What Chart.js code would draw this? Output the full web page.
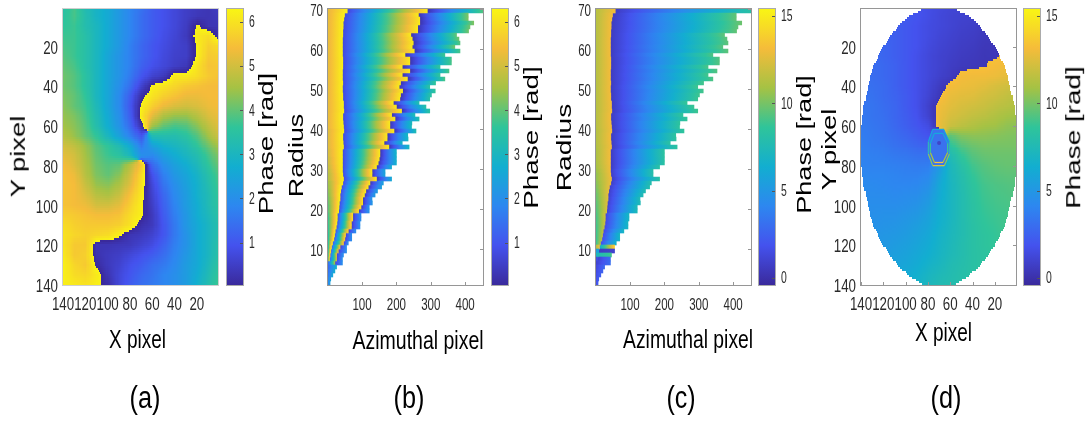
<!DOCTYPE html>
<html>
<head>
<meta charset="utf-8">
<script src="https://cdn.jsdelivr.net/npm/chart.js@4"></script>
<style>
  html, body { margin: 0; padding: 0; background: #fff; overflow: hidden; }
  #page { position: relative; width: 1087px; height: 421px; filter: blur(0.55px); }
  canvas { position: absolute; }
  .lab { position: absolute; white-space: nowrap; color: #000; font-family: "Liberation Sans", sans-serif; line-height: 1; }
</style>
</head>
<body>
<div id="page"></div>
<script>
// tick values
const xTicksPixel = [140, 120, 100, 80, 60, 40, 20];
const yTicksPixel = [20, 40, 60, 80, 100, 120, 140];
const xTicksAzimuth = [100, 200, 300, 400];
const yTicksRadius = [10, 20, 30, 40, 50, 60, 70];
const cbTicksWrapped = [1, 2, 3, 4, 5, 6];
const cbTicksUnwrapped = [0, 5, 10, 15];

// colour limits of the two colour bars
const rangeWrapped = [0.04, 6.29];
const rangeUnwrapped = [-0.4, 15.4];

// colour bar
const parula = ['#3a2a9c', '#4452ee', '#2d87f0', '#12aed0', '#2fc49a', '#a5c244', '#f5bc3a', '#f9f514'];

// nodes of the X/Y maps
const gridX = [140, 130, 120, 110, 100, 90, 80, 70, 60, 50, 40, 30, 20, 10, 0];
const gridY = [0, 5, 10, 15, 20, 25, 30, 35, 40, 45, 50, 55, 60, 65, 70, 75, 80, 85, 90, 95, 100, 105, 110, 115, 120, 125, 130, 135, 140];

// (a) wrapped phase, one line per gridY
const phaseA = [
  [3.4,3.8,3.2,2.9,2.6,2.2,1.8,1.5,1.1,.9,.7,.5,.4,.3,.5],
  [3.5,3.8,3.3,2.9,2.6,2.2,1.8,1.4,1.1,.9,.7,.5,.35,.3,.4],
  [3.6,3.7,3.3,3.0,2.6,2.2,1.8,1.4,1.1,.9,.7,.45,6.2,.3,.3],
  [3.7,3.7,3.4,3.0,2.6,2.2,1.8,1.4,1.1,.85,.65,.4,6.1,5.9,.3],
  [3.8,3.7,3.4,3.0,2.6,2.2,1.7,1.3,1.0,.8,.6,.5,6.2,5.7,5.9],
  [3.9,3.7,3.4,3.0,2.5,2.1,1.7,1.3,1.0,.75,.55,.5,6.2,5.6,5.7],
  [4.0,3.8,3.4,3.0,2.5,2.1,1.7,1.2,.9,.7,.5,.35,6.0,5.5,5.6],
  [4.1,3.9,3.5,3.0,2.5,2.1,1.6,1.0,.6,.4,6.1,6.1,5.9,5.6,5.5],
  [4.1,3.9,3.5,3.0,2.5,2.0,1.4,.6,6.2,6.0,5.8,5.6,5.5,5.4,5.4],
  [4.2,4.0,3.6,3.0,2.5,1.9,1.1,.15,6.0,5.7,5.5,5.3,5.3,5.4,5.4],
  [4.3,4.0,3.7,3.1,2.5,1.9,1.0,6.2,5.7,5.3,5.1,5.0,5.1,5.3,5.4],
  [4.4,4.2,3.8,3.2,2.6,2.0,1.1,6.1,5.2,4.6,4.4,4.4,4.7,5.1,5.3],
  [4.5,4.3,3.9,3.3,2.7,2.1,1.3,.2,4.5,4.0,3.8,3.9,4.3,4.8,5.2],
  [4.7,4.4,4.0,3.6,3.0,2.4,1.7,1.0,3.2,3.3,3.3,3.5,3.9,4.5,5.0],
  [5.0,4.8,4.4,3.9,3.6,3.2,2.6,1.6,2.4,2.8,3.0,3.2,3.6,4.1,4.6],
  [5.2,5.0,4.5,4.0,3.7,3.5,3.0,2.0,1.9,2.4,2.7,3.0,3.3,3.8,4.3],
  [5.4,5.1,4.6,4.1,3.9,4.0,4.7,5.6,1.3,2.0,2.4,2.7,3.1,3.6,4.1],
  [5.5,5.3,4.7,4.2,4.0,4.3,5.0,5.9,.9,1.7,2.2,2.5,2.9,3.4,3.9],
  [5.5,5.4,4.9,4.4,4.3,4.6,5.2,6.0,.7,1.5,2.0,2.4,2.8,3.3,3.8],
  [5.5,5.4,5.1,4.7,4.6,4.9,5.5,6.1,.6,1.3,1.9,2.3,2.8,3.2,3.7],
  [5.5,5.4,5.3,5.0,5.0,5.2,5.7,6.2,.5,1.2,1.8,2.3,2.7,3.2,3.6],
  [5.7,5.6,5.5,5.4,5.4,5.5,5.9,6.2,.4,1.1,1.7,2.2,2.7,3.1,3.5],
  [5.9,5.7,5.6,5.6,5.6,5.7,6.0,.2,.4,1.0,1.6,2.2,2.6,3.0,3.4],
  [6.0,5.8,5.7,5.8,5.9,6.2,.3,.4,.6,1.0,1.6,2.1,2.6,3.0,3.4],
  [6.0,5.6,5.6,.3,.3,.35,.4,.6,.8,1.2,1.7,2.1,2.6,3.0,3.5],
  [6.1,5.6,5.7,.25,.4,.5,.7,.9,1.1,1.4,1.8,2.2,2.6,3.0,3.5],
  [6.2,5.8,5.6,.1,.4,.6,.9,1.1,1.4,1.6,1.9,2.3,2.6,3.1,3.6],
  [6.2,5.9,5.8,6.1,.3,.7,1.0,1.3,1.5,1.8,2.0,2.3,2.7,3.2,3.7],
  [6.2,6.1,6.0,6.2,.15,.7,1.1,1.4,1.6,1.8,2.0,2.3,2.8,3.3,3.8]
];

// (d) unwrapped phase, one line per gridY
const phaseD = [
  [2.6,2.6,2.5,2.4,2.2,1.9,1.6,1.4,1.2,1.1,1.0,.9,.8,.7,.7],
  [2.7,2.7,2.5,2.4,2.2,1.9,1.6,1.3,1.1,1.0,.9,.8,.7,.6,.6],
  [2.8,2.7,2.5,2.4,2.1,1.8,1.5,1.3,1.1,.9,.8,.6,.5,.5,.5],
  [2.9,2.8,2.6,2.4,2.1,1.8,1.5,1.2,1.0,.8,.7,.5,.4,.4,.4],
  [3.0,2.9,2.7,2.4,2.1,1.8,1.4,1.1,.9,.7,.6,.4,.4,13.1,13.1],
  [3.0,2.9,2.7,2.4,2.1,1.7,1.3,1.0,.8,.6,.5,.35,.4,13.1,13.1],
  [3.1,3.0,2.8,2.5,2.1,1.7,1.3,1.0,.7,.5,.4,.35,13.1,13.0,13.0],
  [3.1,3.0,2.8,2.5,2.1,1.7,1.3,.9,.6,13.1,13.0,13.0,12.9,12.7,12.5],
  [3.2,3.1,2.9,2.5,2.1,1.7,1.2,.6,13.1,12.9,12.8,12.6,12.3,12.1,11.9],
  [3.3,3.2,2.9,2.6,2.2,1.7,1.1,.4,12.8,12.6,12.5,12.2,12.0,11.7,11.5],
  [3.4,3.3,3.0,2.7,2.2,1.7,.9,13.0,12.6,12.3,12.1,11.9,11.6,11.4,11.2],
  [3.5,3.3,3.1,2.7,2.3,1.8,1.0,12.9,12.3,12.0,11.7,11.5,11.2,10.9,10.8],
  [3.6,3.4,3.2,2.8,2.4,2.0,1.5,12.8,11.9,11.5,11.2,10.9,10.8,10.5,10.4],
  [3.7,3.5,3.3,3.0,2.7,2.3,1.9,2.0,9.5,10.2,10.4,10.4,10.3,10.2,10.1],
  [3.8,3.6,3.5,3.2,3.0,2.7,2.5,2.5,8.5,9.4,9.8,10.0,10.0,10.0,10.0],
  [3.9,3.8,3.7,3.5,3.4,3.2,3.2,3.4,7.6,8.7,9.4,9.7,9.8,9.8,9.8],
  [4.0,3.9,3.9,3.8,3.7,3.6,3.7,5.0,7.2,8.2,9.0,9.4,9.6,9.7,9.7],
  [4.2,4.1,4.1,4.0,3.9,3.9,4.2,5.6,7.1,7.9,8.7,9.2,9.4,9.5,9.5],
  [4.3,4.3,4.2,4.1,4.1,4.2,4.6,6.0,7.0,7.8,8.5,9.0,9.2,9.3,9.4],
  [4.4,4.4,4.4,4.3,4.4,4.5,5.0,6.1,7.0,7.7,8.4,8.9,9.1,9.2,9.3],
  [4.5,4.5,4.5,4.5,4.6,4.8,5.3,6.3,7.0,7.7,8.3,8.8,9.0,9.1,9.2],
  [4.6,4.6,4.7,4.7,4.9,5.1,5.6,6.4,7.0,7.7,8.3,8.7,8.9,9.0,9.1],
  [4.7,4.7,4.8,4.9,5.1,5.4,5.8,6.5,7.1,7.7,8.2,8.6,8.8,9.0,9.0],
  [4.8,4.9,5.0,5.1,5.3,5.6,6.0,6.7,7.2,7.7,8.2,8.5,8.7,8.9,9.0],
  [5.0,5.0,5.1,5.3,5.5,5.8,6.2,6.8,7.3,7.8,8.2,8.5,8.7,8.8,8.9],
  [5.2,5.2,5.3,5.5,5.7,6.0,6.4,6.9,7.4,7.8,8.2,8.4,8.6,8.7,8.8],
  [5.4,5.4,5.5,5.7,5.9,6.2,6.7,7.1,7.6,7.9,8.2,8.4,8.6,8.7,8.8],
  [5.6,5.6,5.7,5.9,6.1,6.5,7.0,7.4,7.7,8.0,8.2,8.4,8.6,8.7,8.8],
  [5.8,5.8,5.9,6.1,6.3,6.7,7.2,7.6,7.8,8.0,8.2,8.4,8.6,8.7,8.8]
];

// (d) edge of the elliptical mask per gridY, in X pixels
const maskHigh = [78,96,106,113,119,124,128,131,133,135,137,138,139,140,140,140,139,138,137,135,133,131,128,124,119,113,106,96,82];
const maskLow = [62,44,34,27,21,16,12,9,7,5,3,2,1,1,1,1,1,2,3,5,7,9,12,16,21,27,34,44,58];

// (d) the two rings round the vortex core
const ringOuterX = [75.7, 65.9, 60.8, 60.8, 65.3, 75.7, 79.6, 79.6, 75.7];
const ringOuterY = [61.6, 61.6, 67.8, 74, 79.9, 79.9, 74, 67.8, 61.6];
const ringInnerX = [74.2, 66.5, 62.3, 62.3, 66.5, 74.2, 77.8, 77.8, 74.2];
const ringInnerY = [63.6, 63.6, 68.6, 73.3, 78.3, 78.3, 73.3, 68.6, 63.6];
const coreX = [70];
const coreY = [68.5];

// radius of every row in (b) and (c), top row first
const radii = [69,68,67,66,65,64,63,62,61,60,59,58,57,56,55,54,53,52,51,50,49,48,47,46,45,44,43,42,41,40,39,38,37,36,35,34,33,32,31,30,29,28,27,26,25,24,23,22,21,20,19,18,17,16,15,14,13,12,11,10,9,8,7,6,5,4,3,2,1];
const rowEnd = [452,409,409,425,414,410,375,382,385,370, 385,341,360,360,327,353,327,341,314,297, 313,302,297,266,286,297,254,266,245,244, 257,233,234,217,237,200,200,200,200,186, 167,167,186,162,157,145,138,129,130,121, 121,97,97,94,94,82,70,70,60,55, 55,46,43,43,26,21,15,9,7];
const seamFirst = [57,49,47,45,45,44,44,43,43,43, 43,43,44,44,44,43,43,43,44,43, 43,44,44,46,46,47,44,44,45,46, 47,44,44,45,46,43,43,43,43,43, 43,44,46,44,40,38,36,36,34,33, 32,28,28,27,25,22,20,18,14,11, 9,7,5,0,0,0,0,0,0];
const seamSecond = [290,264,268,268,262,262,242,246,249,246, 252,225,239,239,217,239,217,232,212,208, 218,212,210,191,200,215,186,196,181,181, 193,173,173,164,178,152,152,150,147,142, 129,129,142,123,118,111,107,102,102,97, 90,73,73,69,69,60,52,50,46,36, 31,26,26,21,26,21,15,9,7];

// (b) phase along each row
const leftB = [5.2,5.2,5.2,5.2,5.2,5.2,5.2,5.2,5.2,5.2, 5.2,5.2,5.2,5.2,5.2,5.2,5.2,5.2,5.2,5.2, 5.2,5.2,5.2,5.2,5.2,5.2,5.2,5.2,5.2,5.2, 5.1,5.1,5.1,5.1,5.1,5,5,4.9,4.9,4.8, 4.7,4.6,4.6,4.4,4.3,4.2,4.1,4.0,3.9,3.8, 3.8,3.6,3.5,3.5,3.4,3.3,3.2,3.2,3.1,3.0, 3.0,2.9,2.8,2.0,2,2,2,2,2];
const midStartB = [.7,.7,.7,.7,.7,.7,.7,.7,.7,.7, .7,.7,.7,.7,.7,.7,.7,.7,.7,.7, .7,.7,.7,.7,.7,.7,.7,.7,.7,.7, .7,.7,.7,.7,.7,.7,.7,.7,.7,.7, .7,.7,.7,.7,.7,.7,.7,.7,.7,.7, .7,.7,.7,.7,.7,.7,.7,.7,.8,.8, .9,.9,.9,1,1.2,1.3,1.4,1.5,1.6];
const midEndB = [6.1,6.1,6.1,6.1,6.1,6.1,6.1,6.1,6.1,6.1, 6.1,6.1,6.1,6.1,6.1,6.1,6.1,6.1,6.1,6.1, 6.1,6.1,6.1,6.1,6.1,6.1,6.1,6.1,6.1,6.1, 6.1,6.1,6.1,6.1,6.1,6.1,6.1,6.1,6.1,6.1, 6.1,6.1,6.1,6.1,6.1,6.1,6.1,6,6,6, 6,6,6,5.9,5.9,5.8,5.8,5.7,5.6,5.5, 5.4,5.2,5.0,4.6,2.8,2.7,2.6,2.5,2.4];
const rightStartB = [.25,.25,.25,.25,.25,.25,.25,.25,.25,.25, .25,.25,.25,.25,.25,.25,.25,.25,.25,.25, .25,.25,.25,.25,.25,.25,.25,.25,.25,.25, .25,.25,.25,.25,.25,.25,.25,.25,.25,.25, .3,.3,.3,.3,.3,.3,.3,.3,.3,.3, .4,.4,.4,.4,.4,.5,.5,.5,.5,.5, .6,.6,.6,.6,.6,.6,.6,.6,.6];
const rightB = [3.9,4.2,4.2,4.2,4.1,4.1,4.0,4.1,3.9,4.1, 3.8,3.7,3.8,3.8,3.6,3.8,3.6,3.8,3.6,3.5, 3.6,3.5,3.4,3.3,3.4,3.5,3.2,3.3,3.1,3.1, 3.2,3.0,3.0,2.9,3.0,2.9,2.9,2.8,2.8,2.7, 2.5,2.5,2.6,2.4,2.4,2.3,2.3,2.2,2.2,2.1, 2.1,2.0,2.0,2.0,2.0,2.0,2.0,2.0,2.0,2.0, 2.0,2.0,2.0,2.0,2.8,2.7,2.6,2.5,2.4];

// (c) phase along each row
const leftC = [11.3,11.3,11.3,11.3,11.3,11.3,11.3,11.3,11.3,11.3, 11.3,11.3,11.3,11.3,11.3,11.3,11.3,11.3,11.3,11.3, 11.3,11.3,11.3,11.3,11.3,11.3,11.3,11.3,11.3,11.3, 11.2,11.2,11.2,11.2,11.1,11,11,11,10.9,10.8, 10.6,10.4,10.4,10.2,10,9.8,9.6,9.5,9.3,9.2, 9.1,8.9,8.8,8.8,8.7,8.6,8.6,8.5,8.5,11, 5,7,1.5,1.5,1.5,1.4,1.3,1.2,1.2];
const seamC = [13.1,13.1,13.1,13.1,13.1,13.1,13.1,13.1,13.1,13.1, 13.1,13.1,13.1,13.1,13.1,13.1,13.1,13.1,13.1,13.1, 13.1,13.1,13.1,13.1,13.1,13.1,13.1,13.1,13.1,13.1, 13.1,13.1,13.1,13.1,13.1,13.1,13.1,13.1,13.1,13, 13,13,13,12.9,12.8,12.7,12.6,12.5,12.4,12.3, 12.2,12.1,12,11.9,11.7,11.6,11.5,11.4,11.2,13, 6,7.5,1.5,1.5,1.5,1.4,1.3,1.2,1.2];
const midStartC = [.7,.6,.6,.6,.6,.6,.6,.6,.6,.6, .6,.6,.6,.6,.6,.6,.6,.6,.6,.6, .6,.6,.6,.6,.6,.6,.6,.6,.6,.6, .6,.6,.6,.6,.6,.6,.6,.6,.6,.6, .7,.7,.7,.7,.8,.8,.8,.9,.9,1, 1,1.2,1.2,1.2,1.3,1.3,1.4,1.5,1.5,6, .6,7.5,.9,.9,1.2,1.3,1.4,1.5,1.5];
const rightC = [8.2,9.6,9.6,9.8,9.6,9.6,9.5,9.5,9.5,9.4, 9.5,9.2,9.3,9.3,9.1,9.3,9.0,9.2,9,8.9, 9,8.9,8.8,8.7,8.8,8.9,8.6,8.7,8.5,8.5, 8.6,8.4,8.4,8.3,8.4,8.4,8.4,8.3,8.3,8.2, 8,8,8.2,7.9,7.8,7.7,7.6,7.5,7.5,7.4, 7.4,7.0,7.0,7.0,7.0,7.0,7.0,6.9,6.8,14, 1,9,3.0,3.0,2.8,2.6,2.5,2.4,2.3];

const hexToRgb = h => [1, 3, 5].map(i => parseInt(h.substr(i, 2), 16));
const parulaRgb = parula.map(hexToRgb);

function colorOf(v, range) {
  let t = (v - range[0]) / (range[1] - range[0]);
  t = Math.min(1, Math.max(0, t)) * (parulaRgb.length - 1);
  const i = Math.min(parulaRgb.length - 2, Math.floor(t));
  const f = t - i;
  const c = parulaRgb[i].map((a, k) => Math.round(a + (parulaRgb[i + 1][k] - a) * f));
  return 'rgb(' + c.join(',') + ')';
}

// gradient between two phases, laid out between two pixels
function ramp(ctx2d, p0x, p0y, p1x, p1y, v0, v1, range) {
  const g = ctx2d.createLinearGradient(p0x, p0y, p1x, p1y);
  for (let i = 0; i <= 14; i++) {
    g.addColorStop(i / 14, colorOf(v0 + (v1 - v0) * i / 14, range));
  }
  return g;
}

function addCanvas(left, width, height) {
  const c = document.createElement('canvas');
  c.width = width;
  c.height = height;
  c.style.left = left + 'px';
  c.style.top = '0px';
  c.style.width = width + 'px';
  c.style.height = height + 'px';
  document.getElementById('page').appendChild(c);
  return c;
}

// frame and short inward marks
const framePlugin = {
  id: 'frame',
  afterDraw(chart, args, opts) {
    const { ctx, chartArea: a, scales } = chart;
    ctx.save();
    ctx.strokeStyle = opts.color;
    ctx.lineWidth = 1;
    ctx.strokeRect(a.left - 0.5, a.top - 0.5, a.width + 1, a.height + 1);
    if (opts.marks) {
      ctx.strokeStyle = opts.markColor || opts.color;
      if (!opts.bar) {
        scales.x.ticks.forEach(t => {
          const px = Math.round(scales.x.getPixelForValue(t.value)) + 0.5;
          ctx.beginPath(); ctx.moveTo(px, a.bottom); ctx.lineTo(px, a.bottom - 3); ctx.stroke();
        });
      }
      scales.y.ticks.forEach(t => {
        const py = Math.round(scales.y.getPixelForValue(t.value)) + 0.5;
        ctx.beginPath(); ctx.moveTo(a.right, py); ctx.lineTo(a.right - 3, py); ctx.stroke();
      });
    }
    ctx.restore();
  }
};

// the figure's tick numbers are squeezed sideways, which the axis text cannot do
const tickTextPlugin = {
  id: 'tickText',
  afterDraw(chart, args, t) {
    const { ctx, chartArea: a, scales } = chart;
    ctx.save();
    ctx.fillStyle = '#2a2a2a';
    ctx.font = t.size + 'px "Liberation Sans", sans-serif';
    const put = (text, px, py, align) => {
      ctx.save();
      ctx.translate(px, py);
      ctx.scale(t.squeeze, 1);
      ctx.textAlign = align;
      ctx.textBaseline = 'middle';
      ctx.fillText(text, 0, 0);
      ctx.restore();
    };
    if (t.bar) {
      scales.y.ticks.forEach(k => put(String(k.value), a.right + 6, scales.y.getPixelForValue(k.value) + 1, 'left'));
    } else {
      scales.x.ticks.forEach(k => put(String(k.value), scales.x.getPixelForValue(k.value), 305, 'center'));
      scales.y.ticks.forEach(k => put(String(k.value), a.left - 5, scales.y.getPixelForValue(k.value) + 2, 'right'));
    }
    ctx.restore();
  }
};

// paints a map like shading interp: each X/Y pixel is looked up in the read nodes.
// the phase is blended on a circle so that the wrap stays a sharp edge
const fieldPlugin = {
  id: 'field',
  beforeDatasetsDraw(chart, args, f) {
    if (!f.grid) return;
    const { ctx, scales: { x: sx, y: sy } } = chart;
    const w = 2 * Math.PI / f.period;
    ctx.save();
    for (let Y = 0; Y <= 140; Y++) {
      const fy = Math.min(gridY.length - 1.001, Y / 5);
      const j = Math.floor(fy), ty = fy - j;
      const py0 = Math.floor(sy.getPixelForValue(Math.max(1, Y - 0.5)));
      const py1 = Math.ceil(sy.getPixelForValue(Math.max(1, Y + 0.5)));
      let lo = -1, hi = 999;
      if (f.low) {
        lo = f.low[j] + (f.low[j + 1] - f.low[j]) * ty;
        hi = f.high[j] + (f.high[j + 1] - f.high[j]) * ty;
      }
      for (let X = 1; X <= 140; X++) {
        if (X < lo || X > hi) continue;
        const fx = Math.min(gridX.length - 1.001, (140 - X) / 10);
        const i = Math.floor(fx), tx = fx - i;
        let s = 0, c = 0;
        [[i, j, (1 - tx) * (1 - ty)], [i + 1, j, tx * (1 - ty)], [i, j + 1, (1 - tx) * ty], [i + 1, j + 1, tx * ty]].forEach(n => {
          const a = (f.grid[n[1]][n[0]] - f.start) * w;
          s += n[2] * Math.sin(a);
          c += n[2] * Math.cos(a);
        });
        let a = Math.atan2(s, c);
        if (a < 0) a += 2 * Math.PI;
        ctx.fillStyle = colorOf(f.start + a / w, f.range);
        const px0 = Math.floor(sx.getPixelForValue(Math.min(140, X + 0.5)));
        const px1 = Math.ceil(sx.getPixelForValue(X - 0.5));
        ctx.fillRect(px0, py0, px1 - px0, py1 - py0);
      }
    }
    if (f.fillIndex) {
      ctx.fillStyle = f.fillColor;
      ctx.beginPath();
      chart.getDatasetMeta(f.fillIndex).data.forEach((p, i) => (i ? ctx.lineTo(p.x, p.y) : ctx.moveTo(p.x, p.y)));
      ctx.closePath();
      ctx.fill();
    }
    ctx.restore();
  }
};

// shared axis options; the fixed sizes pin the plot box to the figure
function axes(xMin, xMax, xTicks, yMin, yMax, yTicks, reversed) {
  return {
    x: {
      type: 'linear', min: xMin, max: xMax, reverse: reversed, offset: false,
      grid: { display: false }, border: { display: false },
      afterBuildTicks: s => { s.ticks = xTicks.map(v => ({ value: v })); },
      afterFit: s => { s.height = 35; },
      ticks: { display: false }
    },
    y: {
      type: 'linear', min: yMin, max: yMax, reverse: reversed, offset: false,
      grid: { display: false }, border: { display: false },
      afterBuildTicks: s => { s.ticks = yTicks.map(v => ({ value: v })); },
      afterFit: s => { s.width = 60; },
      ticks: { display: false }
    }
  };
}

function fieldChart(left, grid, conf) {
  const nodes = [];
  gridY.forEach((y, j) => gridX.forEach((x, i) => nodes.push({ x: x, y: y, v: grid[j][i] })));
  const sets = [{ data: nodes, pointRadius: 0, showLine: false }].concat(conf.extra || []);
  return new Chart(addCanvas(left - 60, 216, 320), {
    type: 'scatter',
    data: { datasets: sets },
    options: {
      responsive: false, animation: false, events: [],
      layout: { autoPadding: false, padding: { top: 9, right: 1, left: 0, bottom: 0 } },
      scales: axes(1, 140, xTicksPixel, 1, 140, yTicksPixel, true),
      plugins: {
        legend: { display: false }, tooltip: { enabled: false },
        frame: { color: conf.frame, marks: conf.marks },
        tickText: { size: conf.size, squeeze: conf.squeeze },
        field: { grid: grid, range: conf.range, period: conf.period, start: conf.start, low: conf.low, high: conf.high, fillIndex: conf.fillIndex, fillColor: conf.fillColor }
      }
    },
    plugins: [fieldPlugin, framePlugin, tickTextPlugin]
  });
}

// one floating bar per row, filled with its own phase ramp
function rowSet(from, to, v0, v1, range) {
  return {
    data: radii.map((r, i) => ({ x: [from[i], to[i]], y: r + 0.5, v0: v0[i], v1: v1[i] })),
    grouped: false, barPercentage: 1, categoryPercentage: 1, borderWidth: 0,
    backgroundColor: c => {
      if (!c.raw || !c.chart.chartArea) return 'rgba(0,0,0,0)';
      const sx = c.chart.scales.x;
      return ramp(c.chart.ctx, sx.getPixelForValue(c.raw.x[0]), 0, sx.getPixelForValue(c.raw.x[1]), 0, c.raw.v0, c.raw.v1, range);
    }
  };
}

function rowChart(left, sets) {
  return new Chart(addCanvas(left - 60, 216, 320), {
    type: 'bar',
    data: { datasets: sets },
    options: {
      indexAxis: 'y', responsive: false, animation: false, events: [],
      layout: { autoPadding: false, padding: { top: 9, right: 1, left: 0, bottom: 0 } },
      scales: axes(1, 452, xTicksAzimuth, 1, 70, yTicksRadius, false),
      plugins: {
        legend: { display: false }, tooltip: { enabled: false },
        frame: { color: '#969696', marks: true },
        tickText: { size: 16.5, squeeze: 0.7 }
      }
    },
    plugins: [framePlugin, tickTextPlugin]
  });
}

function colorBar(left, range, ticks) {
  return new Chart(addCanvas(left - 1, 45, 320), {
    type: 'bar',
    data: {
      labels: ['phase'],
      datasets: [{
        data: [range], barPercentage: 1, categoryPercentage: 1, borderWidth: 0,
        backgroundColor: c => c.chart.chartArea
          ? ramp(c.chart.ctx, 0, c.chart.chartArea.bottom, 0, c.chart.chartArea.top, range[0], range[1], range)
          : 'rgba(0,0,0,0)'
      }]
    },
    options: {
      responsive: false, animation: false, events: [],
      layout: { autoPadding: false, padding: { top: 9, bottom: 35, left: 1, right: 0 } },
      scales: {
        x: { display: false },
        y: {
          position: 'right', min: range[0], max: range[1],
          grid: { display: false }, border: { display: false },
          afterBuildTicks: s => { s.ticks = ticks.map(v => ({ value: v })); },
          afterFit: s => { s.width = 28; },
          ticks: { display: false }
        }
      },
      plugins: {
        legend: { display: false }, tooltip: { enabled: false },
        frame: { color: '#ababab', markColor: '#555555', marks: true, bar: true },
        tickText: { size: 16, squeeze: 0.65, bar: true }
      }
    },
    plugins: [framePlugin, tickTextPlugin]
  });
}

// text: centre x, centre y, length along the text, font size, rotated or not
function label(text, cx, cy, length, size, turned) {
  const el = document.createElement('div');
  el.className = 'lab';
  el.textContent = text;
  el.style.fontSize = size + 'px';
  document.getElementById('page').appendChild(el);
  const stretch = length / el.offsetWidth;
  el.style.left = (cx - el.offsetWidth / 2) + 'px';
  el.style.top = (cy - el.offsetHeight / 2) + 'px';
  el.style.transform = (turned ? 'rotate(-90deg) ' : '') + 'scaleX(' + stretch + ')';
}

// (a)
fieldChart(63, phaseA, { range: rangeWrapped, period: 2 * Math.PI, start: 0, size: 18, squeeze: 0.74, frame: '#cfcfcf', marks: false });
colorBar(227, rangeWrapped, cbTicksWrapped);

// (b)
rowChart(328, [
  rowSet(radii.map(() => 0), seamFirst, leftB, radii.map(() => 6.2), rangeWrapped),
  rowSet(seamFirst, seamSecond, midStartB, midEndB, rangeWrapped),
  rowSet(seamSecond, rowEnd, rightStartB, rightB, rangeWrapped)
]);
colorBar(492, rangeWrapped, cbTicksWrapped);

// (c)
rowChart(596, [
  rowSet(radii.map(() => 0), seamFirst, leftC, seamC, rangeUnwrapped),
  rowSet(seamFirst, rowEnd, midStartC, rightC, rangeUnwrapped)
]);
colorBar(759, rangeUnwrapped, cbTicksUnwrapped);

// (d)
const ringSet = (xs, ys, colors) => ({
  showLine: true, pointRadius: 0, borderWidth: 1.2, fill: false,
  data: xs.map((x, i) => ({ x: x, y: ys[i] })),
  segment: { borderColor: c => colors[c.p0DataIndex] }
});
fieldChart(861, phaseD, {
  range: rangeUnwrapped, period: 13, start: 0.3, size: 18, squeeze: 0.74, frame: '#969696', marks: true,
  low: maskLow, high: maskHigh, fillIndex: 1, fillColor: '#3a72ee',
  extra: [
    { showLine: false, pointRadius: 0, data: ringOuterX.map((x, i) => ({ x: x, y: ringOuterY[i] })) },
    ringSet(ringOuterX, ringOuterY, ['#17a8dc', '#17a8dc', '#2fb6b8', '#8fc65a', '#e8c92f', '#8fc65a', '#2fb6b8', '#17a8dc']),
    ringSet(ringInnerX, ringInnerY, ['#17a8dc', '#17a8dc', '#37c897', '#abc739', '#fec338', '#abc739', '#37c897', '#17a8dc']),
    { showLine: false, pointRadius: 2, pointBackgroundColor: '#3f45c8', pointBorderWidth: 0, data: coreX.map((x, i) => ({ x: x, y: coreY[i] })) }
  ]
});
colorBar(1024, rangeUnwrapped, cbTicksUnwrapped);

label('X pixel', 137, 339, 57, 25, false);
label('Azimuthal pixel', 418, 340, 131, 25, false);
label('Azimuthal pixel', 688, 339, 130, 25, false);
label('X pixel', 943, 332, 57, 25, false);
label('(a)', 145, 397, 31, 31, false);
label('(b)', 409, 397, 31, 31, false);
label('(c)', 681, 397, 29, 31, false);
label('(d)', 946, 397, 31, 31, false);
label('Y pixel', 17, 156, 82, 21, true);
label('Y pixel', 828, 149, 82, 21, true);
label('Radius', 295, 155, 83, 21, true);
label('Radius', 563, 147, 87, 21, true);
label('Phase [rad]', 265, 143, 141, 21, true);
label('Phase [rad]', 530, 137, 142, 21, true);
label('Phase [rad]', 803, 144, 138, 21, true);
label('Phase [rad]', 1072, 137, 142, 21, true);
</script>
</body>
</html>
